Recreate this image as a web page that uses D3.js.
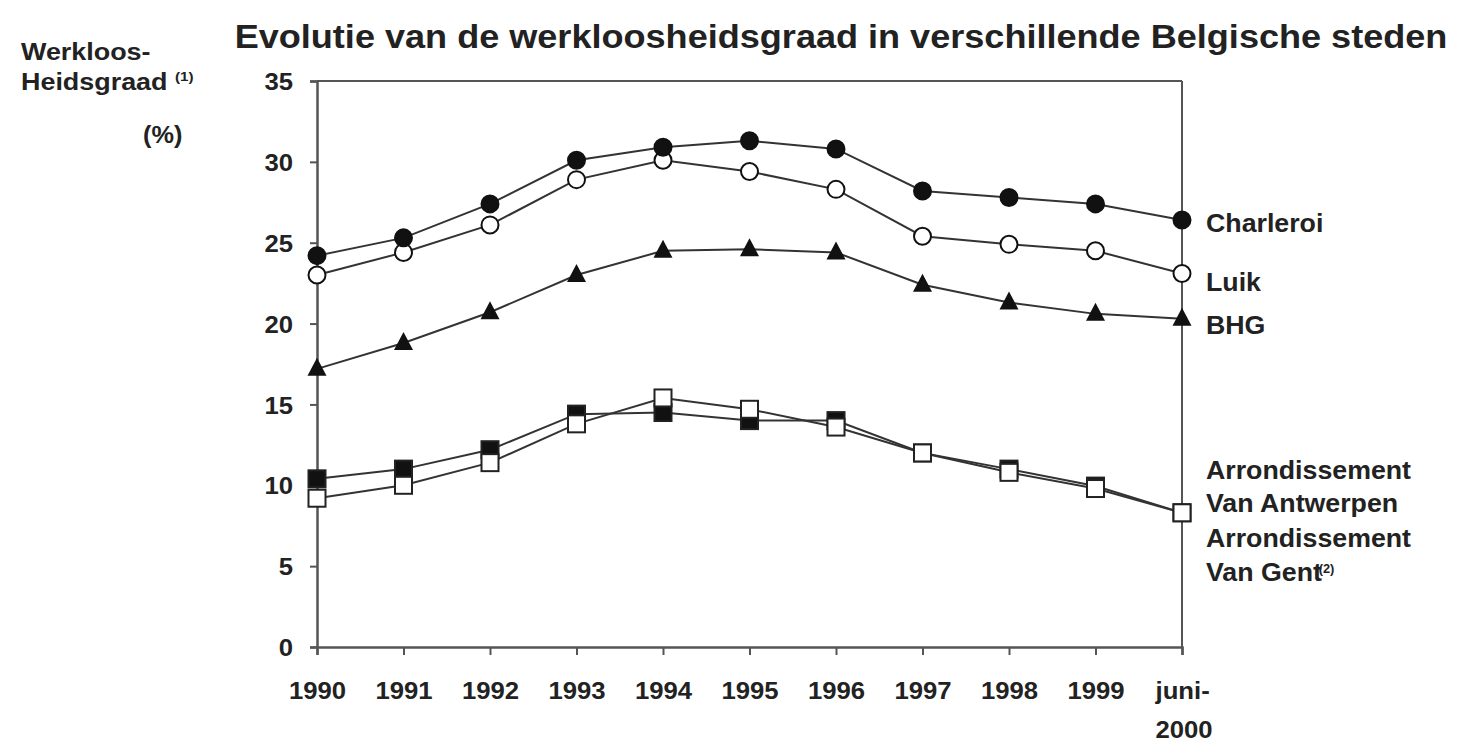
<!DOCTYPE html>
<html><head><meta charset="utf-8">
<script src="https://cdn.jsdelivr.net/npm/d3@7"></script>
<style>body{margin:0;background:#fff}svg{display:block}text{font-family:"Liberation Sans",Arial,sans-serif;font-weight:bold;fill:#222}</style>
</head><body><svg id="c" width="1466" height="743"></svg>
<script>
const years = ["1990","1991","1992","1993","1994","1995","1996","1997","1998","1999","juni-2000"];
const yTicks = [0,5,10,15,20,25,30,35];
const charleroi = [24.2,25.3,27.4,30.1,30.9,31.3,30.8,28.2,27.8,27.4,26.4];
const luik      = [23.0,24.4,26.1,28.9,30.1,29.4,28.3,25.4,24.9,24.5,23.1];
const bhg       = [17.2,18.8,20.7,23.0,24.5,24.6,24.4,22.4,21.3,20.6,20.3];
const antwerpen = [10.4,11.0,12.2,14.4,14.5,14.0,14.0,12.0,11.0,9.95,8.3];
const gent      = [9.2,10.0,11.4,13.8,15.4,14.7,13.6,12.0,10.8,9.8,8.3];
const seriesNames = ["Charleroi","Luik","BHG","Arrondissement Van Antwerpen","Arrondissement Van Gent"];
const titleText = "Evolutie van de werkloosheidsgraad in verschillende Belgische steden";

const series = [
  {name:seriesNames[3], values:antwerpen, marker:"square", fill:"#111"},
  {name:seriesNames[4], values:gent, marker:"square", fill:"#fff"},
  {name:seriesNames[2], values:bhg, marker:"triangle", fill:"#111"},
  {name:seriesNames[1], values:luik, marker:"circle", fill:"#fff"},
  {name:seriesNames[0], values:charleroi, marker:"circle", fill:"#111"}
];

const svg = d3.select("#c");
const L=317, R=1182, T=81, B=647;
const x = d3.scalePoint().domain(years).range([L,R]);
const y = d3.scaleLinear().domain([0,35]).range([B,T]);
const axisCol="#555";

function stext(parent, tx, ty, str, fs, sx, anchor){
  const g = parent.append("g").attr("transform",`translate(${tx},${ty}) scale(${sx},1)`);
  return g.append("text").attr("text-anchor",anchor||"start").style("font-size",fs+"px").text(str);
}

// box
svg.append("line").attr("x1",L).attr("x2",R).attr("y1",T).attr("y2",T).attr("stroke",axisCol).attr("stroke-width",2);
svg.append("line").attr("x1",R).attr("x2",R).attr("y1",T).attr("y2",B).attr("stroke",axisCol).attr("stroke-width",2);

const tsx = 1.07, tfs = 24;
const yAx = svg.append("g").attr("transform",`translate(${L},0)`)
  .call(d3.axisLeft(y).tickValues(yTicks).tickSize(7).tickPadding(12).tickFormat(d3.format("d")));
const xAx = svg.append("g").attr("transform",`translate(0,${B})`)
  .call(d3.axisBottom(x).tickSize(8).tickPadding(14).tickFormat(d=>d));
[yAx,xAx].forEach(g=>{
  g.select(".domain").attr("stroke",axisCol).attr("stroke-width",2.5);
  g.selectAll(".tick line").attr("stroke",axisCol).attr("stroke-width",2);
  g.selectAll("text").style("font-size",tfs+"px").style("font-family","'Liberation Sans',Arial,sans-serif").style("font-weight","bold").attr("fill","#222");
});
yAx.selectAll(".tick text").attr("x",-24/tsx).attr("dy","0.36em").attr("transform",`scale(${tsx},1)`);
xAx.selectAll(".tick text").attr("y",52).attr("dy",null).attr("transform",`scale(${tsx},1)`);
xAx.selectAll(".tick text").each(function(d){
  if(d.startsWith("juni")){
    const t=d3.select(this); t.text(null).attr("text-anchor","start");
    t.append("tspan").attr("x",-27/tsx).text("juni-");
    t.append("tspan").attr("x",-27/tsx).attr("dy",39).text("2000");
  }
});

const line = d3.line().x((d,i)=>x(years[i])).y(d=>y(d));
series.forEach(s=>{
  svg.append("path").datum(s.values).attr("d",line).attr("fill","none").attr("stroke","#333").attr("stroke-width",2);
});
series.forEach(s=>{
  const g = svg.append("g");
  s.values.forEach((v,i)=>{
    const cx=x(years[i]), cy=y(v);
    if(s.marker==="circle"){
      g.append("circle").attr("cx",cx).attr("cy",cy).attr("r",8.5).attr("fill",s.fill).attr("stroke","#111").attr("stroke-width",2);
    } else if(s.marker==="square"){
      g.append("rect").attr("x",cx-8.5).attr("y",cy-8.5).attr("width",17).attr("height",17).attr("fill",s.fill).attr("stroke","#222").attr("stroke-width",2);
    } else {
      g.append("path").attr("d",`M${cx},${cy-11}L${cx+9.5},${cy+7}L${cx-9.5},${cy+7}Z`).attr("fill",s.fill);
    }
  });
});

// title
stext(svg, 841, 48, titleText, 32.5, 1.11, "middle");

// y-axis label
stext(svg, 21, 60, "Werkloos-", 23, 1.17);
const hl = stext(svg, 21, 90, "Heidsgraad ", 23, 1.17);
hl.append("tspan").attr("dy",-9).style("font-size","13px").text("(1)");
stext(svg, 143, 143, "(%)", 23, 1.1);

// series labels
const lx = 1206, lfs = 25, lsx = 1.07;
stext(svg, lx, 232, seriesNames[0], lfs, lsx);
stext(svg, lx, 291, seriesNames[1], lfs, lsx);
stext(svg, lx, 334, seriesNames[2], lfs, lsx);
stext(svg, lx, 479, "Arrondissement", lfs, lsx);
stext(svg, lx, 512, "Van Antwerpen", lfs, lsx);
stext(svg, lx, 547, "Arrondissement", lfs, lsx);
const gt = stext(svg, lx, 581, "Van Gent", lfs, lsx);
gt.append("tspan").attr("dy",-8).attr("dx",-3).style("font-size","12px").text("(2)");
</script></body></html>
